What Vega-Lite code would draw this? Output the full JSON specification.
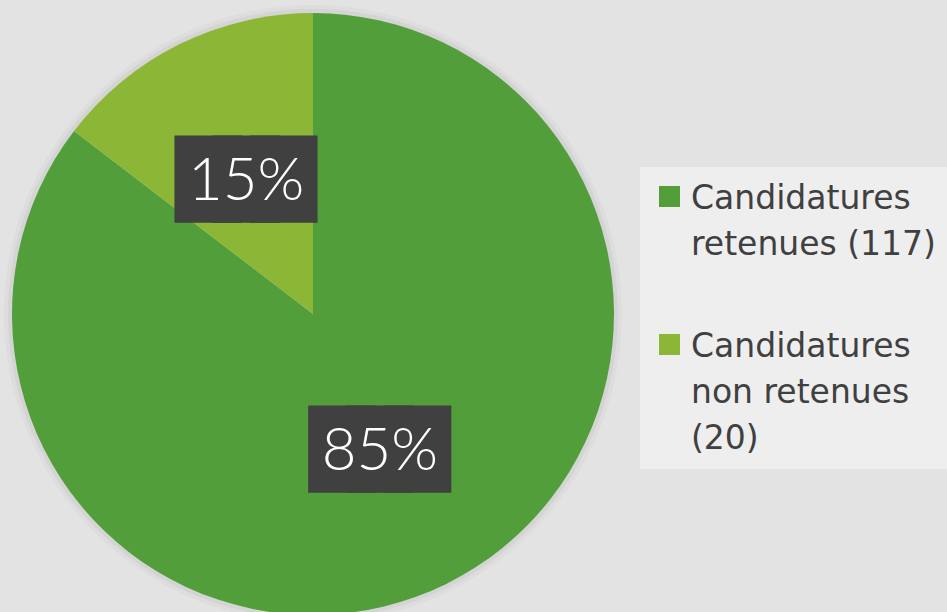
{
  "$schema": "https://vega.github.io/schema/vega-lite/v6.json",
  "width": 626,
  "height": 628,
  "padding": 0,
  "background": "#e3e3e3",
  "data": {"values": [
    {"categorie": "Candidatures retenues (117)", "nombre": 117, "ordre": 1, "pct": "85%"},
    {"categorie": "Candidatures non retenues (20)", "nombre": 20, "ordre": 2, "pct": "15%"}
  ]},
  "encoding": {
    "theta": {"field": "nombre", "type": "quantitative", "stack": true},
    "order": {"field": "ordre", "type": "quantitative"}
  },
  "layer": [
    {
      "mark": {"type": "arc", "outerRadius": 309, "color": "#000000", "opacity": 0.025}
    },
    {
      "mark": {"type": "arc", "outerRadius": 305, "color": "#000000", "opacity": 0.04}
    },
    {
      "mark": {"type": "arc", "outerRadius": 301},
      "encoding": {
        "color": {
          "field": "categorie", "type": "nominal",
          "scale": {"domain": ["Candidatures retenues (117)", "Candidatures non retenues (20)"], "range": ["#529E3A", "#8CB736"]},
          "legend": {
            "title": null, "orient": "none", "legendX": 640, "legendY": 167,
            "symbolType": "square", "symbolSize": 441, "symbolStrokeWidth": 0,
            "labelFont": "DejaVu Sans", "labelFontSize": 33, "labelColor": "#404040",
            "labelLimit": 400, "labelBaseline": "top", "labelOffset": 5,
            "labelExpr": "datum.label == 'Candidatures retenues (117)' ? ['Candidatures','retenues (117)'] : ['Candidatures','non retenues','(20)']",
            "rowPadding": 66, "fillColor": "#eeeeee", "padding": 13
          }
        }
      }
    },
    {
      "mark": {"type": "text", "radius": 151, "text": "███", "font": "DejaVu Sans", "fontSize": 49, "color": "#404040", "stroke": "#404040", "strokeWidth": 29, "strokeJoin": "miter", "baseline": "middle", "align": "center", "dy": 2}
    },
    {
      "mark": {"type": "text", "radius": 151, "font": "Lato", "fontWeight": 300, "fontSize": 60, "color": "white", "baseline": "middle", "align": "center", "dy": 3},
      "encoding": {"text": {"field": "pct", "type": "nominal"}}
    }
  ],
  "config": {"view": {"stroke": null}, "style": {"guide-label": {"lineHeight": 46, "dy": -14}}}
}
